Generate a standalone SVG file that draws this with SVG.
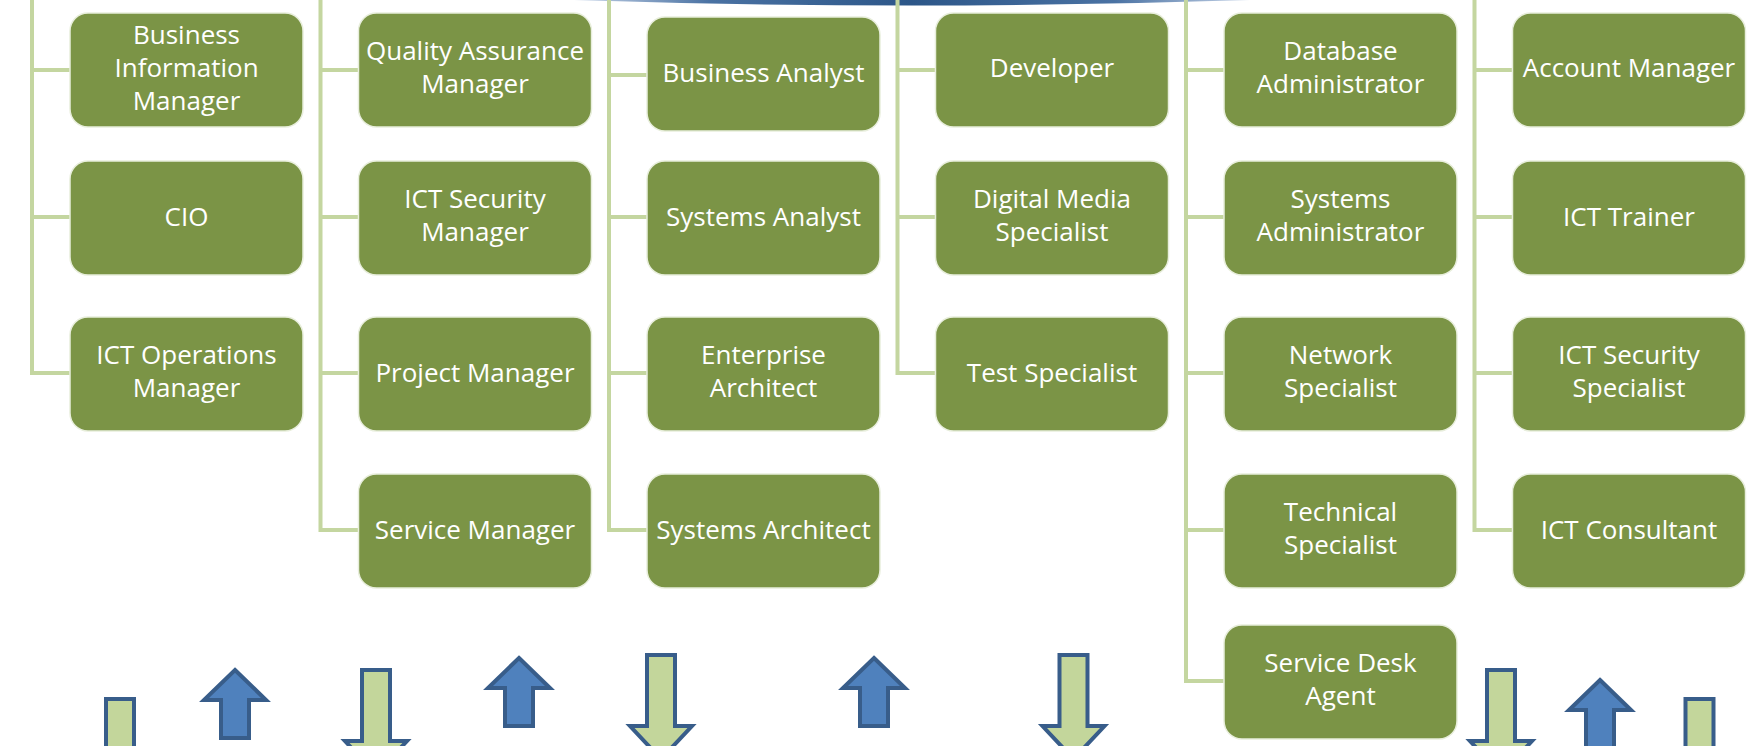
<svg xmlns="http://www.w3.org/2000/svg" width="1753" height="746" viewBox="0 0 1753 746">
<style>
.box{fill:#7b9446;stroke:#e8eedc;stroke-width:1.5}
.t{font-family:"Open Sans",Lato,"Liberation Sans",sans-serif;font-size:26px;fill:#ffffff;text-anchor:middle}
.con{fill:none;stroke:#c4d6a0;stroke-width:4;stroke-linejoin:miter}
.up{fill:#4f81bd;stroke:#385d8a;stroke-width:4;stroke-linejoin:miter}
.dn{fill:#c3d69b;stroke:#385d8a;stroke-width:4;stroke-linejoin:miter}
</style>
<defs>
<linearGradient id="arcg" x1="0" y1="0" x2="1" y2="0">
<stop offset="0" stop-color="#c6d4e8"/>
<stop offset="0.2" stop-color="#4a72a3"/>
<stop offset="0.5" stop-color="#2c5688"/>
<stop offset="0.8" stop-color="#4a72a3"/>
<stop offset="1" stop-color="#c6d4e8"/>
</linearGradient>
<polygon id="uparrow" points="0,0 31,30 14,30 14,68 -14,68 -14,30 -31,30"/>
<polygon id="dnarrow" points="-14,0 14,0 14,71 31,71 0,104 -31,71 -14,71"/>
</defs>
<rect width="1753" height="746" fill="#ffffff"/>
<path id="parent-edge" d="M574,0 Q912,11 1250,0 Z" fill="url(#arcg)"/>

<g id="connectors" class="con">
<path d="M32,0 V373 H70 M32,70 H70 M32,217 H70"/>
<path d="M320.5,0 V530 H358.5 M320.5,70 H358.5 M320.5,217 H358.5 M320.5,373 H358.5"/>
<path d="M609,0 V530 H647 M609,75 H647 M609,217 H647 M609,373 H647"/>
<path d="M897.5,0 V373 H935.5 M897.5,70 H935.5 M897.5,217 H935.5"/>
<path d="M1186,0 V681 H1224 M1186,70 H1224 M1186,217 H1224 M1186,373 H1224 M1186,530 H1224"/>
<path d="M1474.5,0 V530 H1512.5 M1474.5,70 H1512.5 M1474.5,217 H1512.5 M1474.5,373 H1512.5"/>
</g>

<g id="n-business-information-manager"><rect class="box" x="70" y="13" width="233" height="114" rx="18"/><text class="t" x="186.5" y="44">Business</text><text class="t" x="186.5" y="77">Information</text><text class="t" x="186.5" y="110">Manager</text></g>
<g id="n-cio"><rect class="box" x="70" y="161" width="233" height="114" rx="18"/><text class="t" x="186.5" y="226">CIO</text></g>
<g id="n-ict-operations-manager"><rect class="box" x="70" y="317" width="233" height="114" rx="18"/><text class="t" x="186.5" y="364">ICT Operations</text><text class="t" x="186.5" y="397">Manager</text></g>

<g id="n-quality-assurance-manager"><rect class="box" x="358.5" y="13" width="233" height="114" rx="18"/><text class="t" x="475" y="60">Quality Assurance</text><text class="t" x="475" y="93">Manager</text></g>
<g id="n-ict-security-manager"><rect class="box" x="358.5" y="161" width="233" height="114" rx="18"/><text class="t" x="475" y="208">ICT Security</text><text class="t" x="475" y="241">Manager</text></g>
<g id="n-project-manager"><rect class="box" x="358.5" y="317" width="233" height="114" rx="18"/><text class="t" x="475" y="382">Project Manager</text></g>
<g id="n-service-manager"><rect class="box" x="358.5" y="474" width="233" height="114" rx="18"/><text class="t" x="475" y="539">Service Manager</text></g>

<g id="n-business-analyst"><rect class="box" x="647" y="17" width="233" height="114" rx="18"/><text class="t" x="763.5" y="82">Business Analyst</text></g>
<g id="n-systems-analyst"><rect class="box" x="647" y="161" width="233" height="114" rx="18"/><text class="t" x="763.5" y="226">Systems Analyst</text></g>
<g id="n-enterprise-architect"><rect class="box" x="647" y="317" width="233" height="114" rx="18"/><text class="t" x="763.5" y="364">Enterprise</text><text class="t" x="763.5" y="397">Architect</text></g>
<g id="n-systems-architect"><rect class="box" x="647" y="474" width="233" height="114" rx="18"/><text class="t" x="763.5" y="539">Systems Architect</text></g>

<g id="n-developer"><rect class="box" x="935.5" y="13" width="233" height="114" rx="18"/><text class="t" x="1052" y="77">Developer</text></g>
<g id="n-digital-media-specialist"><rect class="box" x="935.5" y="161" width="233" height="114" rx="18"/><text class="t" x="1052" y="208">Digital Media</text><text class="t" x="1052" y="241">Specialist</text></g>
<g id="n-test-specialist"><rect class="box" x="935.5" y="317" width="233" height="114" rx="18"/><text class="t" x="1052" y="382">Test Specialist</text></g>

<g id="n-database-administrator"><rect class="box" x="1224" y="13" width="233" height="114" rx="18"/><text class="t" x="1340.5" y="60">Database</text><text class="t" x="1340.5" y="93">Administrator</text></g>
<g id="n-systems-administrator"><rect class="box" x="1224" y="161" width="233" height="114" rx="18"/><text class="t" x="1340.5" y="208">Systems</text><text class="t" x="1340.5" y="241">Administrator</text></g>
<g id="n-network-specialist"><rect class="box" x="1224" y="317" width="233" height="114" rx="18"/><text class="t" x="1340.5" y="364">Network</text><text class="t" x="1340.5" y="397">Specialist</text></g>
<g id="n-technical-specialist"><rect class="box" x="1224" y="474" width="233" height="114" rx="18"/><text class="t" x="1340.5" y="521">Technical</text><text class="t" x="1340.5" y="554">Specialist</text></g>
<g id="n-service-desk-agent"><rect class="box" x="1224" y="625" width="233" height="114" rx="18"/><text class="t" x="1340.5" y="672">Service Desk</text><text class="t" x="1340.5" y="705">Agent</text></g>

<g id="n-account-manager"><rect class="box" x="1512.5" y="13" width="233" height="114" rx="18"/><text class="t" x="1629" y="77">Account Manager</text></g>
<g id="n-ict-trainer"><rect class="box" x="1512.5" y="161" width="233" height="114" rx="18"/><text class="t" x="1629" y="226">ICT Trainer</text></g>
<g id="n-ict-security-specialist"><rect class="box" x="1512.5" y="317" width="233" height="114" rx="18"/><text class="t" x="1629" y="364">ICT Security</text><text class="t" x="1629" y="397">Specialist</text></g>
<g id="n-ict-consultant"><rect class="box" x="1512.5" y="474" width="233" height="114" rx="18"/><text class="t" x="1629" y="539">ICT Consultant</text></g>

<g id="arrows">
<use href="#dnarrow" class="dn" transform="translate(120,699)"/>
<use href="#uparrow" class="up" transform="translate(235,670)"/>
<use href="#dnarrow" class="dn" transform="translate(376,670)"/>
<use href="#uparrow" class="up" transform="translate(519,658)"/>
<use href="#dnarrow" class="dn" transform="translate(661,655)"/>
<use href="#uparrow" class="up" transform="translate(874,658)"/>
<use href="#dnarrow" class="dn" transform="translate(1073.5,655)"/>
<use href="#dnarrow" class="dn" transform="translate(1501,670)"/>
<use href="#uparrow" class="up" transform="translate(1600,680)"/>
<use href="#dnarrow" class="dn" transform="translate(1699.5,699)"/>
</g>
</svg>
